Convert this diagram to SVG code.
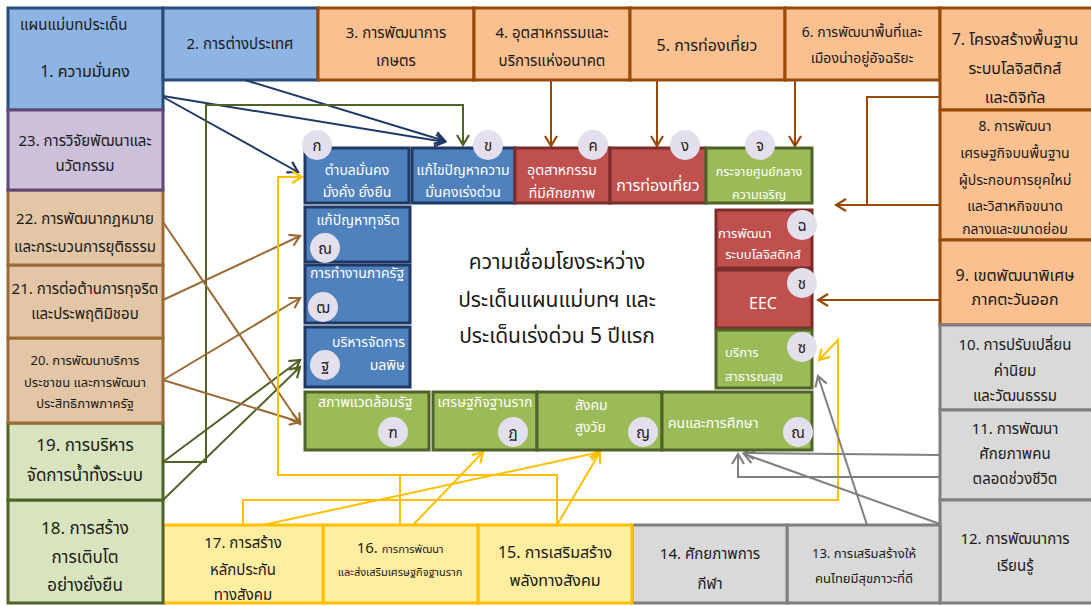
<svg xmlns="http://www.w3.org/2000/svg" width="1091" height="606" viewBox="0 0 1091 606">
<style>
text{font-family:'Noto Sans Thai','Leelawadee UI',Tahoma,'Noto Sans','DejaVu Sans',sans-serif;fill:#1a1a1a;text-anchor:middle}
.blue rect{fill:#8eb4e3;stroke:#2c4d75;stroke-width:3}
.org rect{fill:#fac090;stroke:#984807;stroke-width:3}
.gry rect{fill:#d9d9d9;stroke:#7f7f7f;stroke-width:3}
.yel rect{fill:#ffeda0;stroke:#ffc000;stroke-width:3}
.grn rect{fill:#d7e4bd;stroke:#4f6228;stroke-width:3}
.tan rect{fill:#e3c6a5;stroke:#9c6a35;stroke-width:3}
.lav rect{fill:#ccc0da;stroke:#5f497a;stroke-width:3}
.ib rect{fill:#4f81bd;stroke:#1f3864;stroke-width:3}
.ir rect{fill:#c0504d;stroke:#7b2c2a;stroke-width:3}
.ig rect{fill:#9bbb59;stroke:#4f6228;stroke-width:3}
.in text{fill:#fff;font-size:14px}
circle{fill:#e4dfec}
.in text.cl{fill:#1a1a1a;font-size:15px}
.s15{font-size:15px}.s16{font-size:16px}.s14{font-size:14px}.s13{font-size:13px}.s17{font-size:17px}
#connectors line,#connectors polyline{fill:none;stroke-width:2}
</style>
<defs>
<marker id="aN" viewBox="0 0 14 14" refX="12" refY="7" markerWidth="14" markerHeight="14" markerUnits="userSpaceOnUse" orient="auto"><path d="M2,1 L12,7 L2,13" fill="none" stroke="#1f3864" stroke-width="2.2"/></marker>
<marker id="aG" viewBox="0 0 14 14" refX="12" refY="7" markerWidth="14" markerHeight="14" markerUnits="userSpaceOnUse" orient="auto"><path d="M2,1 L12,7 L2,13" fill="none" stroke="#4f6228" stroke-width="2.2"/></marker>
<marker id="aB" viewBox="0 0 14 14" refX="12" refY="7" markerWidth="14" markerHeight="14" markerUnits="userSpaceOnUse" orient="auto"><path d="M2,1 L12,7 L2,13" fill="none" stroke="#9c6a35" stroke-width="2.2"/></marker>
<marker id="aO" viewBox="0 0 14 14" refX="12" refY="7" markerWidth="14" markerHeight="14" markerUnits="userSpaceOnUse" orient="auto"><path d="M2,1 L12,7 L2,13" fill="none" stroke="#984807" stroke-width="2.2"/></marker>
<marker id="aY" viewBox="0 0 14 14" refX="12" refY="7" markerWidth="14" markerHeight="14" markerUnits="userSpaceOnUse" orient="auto"><path d="M2,1 L12,7 L2,13" fill="none" stroke="#ffc000" stroke-width="2.2"/></marker>
<marker id="aR" viewBox="0 0 14 14" refX="12" refY="7" markerWidth="14" markerHeight="14" markerUnits="userSpaceOnUse" orient="auto"><path d="M2,1 L12,7 L2,13" fill="none" stroke="#808080" stroke-width="2.2"/></marker>
</defs>
<rect width="1091" height="606" fill="#fff"/>

<!-- outer boxes -->
<g id="n1" class="blue"><rect x="8" y="8" width="155" height="102"/><text x="20" y="30" class="s15" style="text-anchor:start">แผนแม่บทประเด็น</text><text x="85" y="77" class="s16">1. ความมั่นคง</text></g>
<g id="n2" class="blue"><rect x="163" y="8" width="155" height="72"/><text x="240" y="49" class="s15">2. การต่างประเทศ</text></g>
<g id="n3" class="org"><rect x="318" y="8" width="156" height="72"/><text x="396" y="38" class="s15">3. การพัฒนาการ</text><text x="396" y="66" class="s15">เกษตร</text></g>
<g id="n4" class="org"><rect x="474" y="8" width="156" height="72"/><text x="552" y="38" class="s15">4. อุตสาหกรรมและ</text><text x="552" y="66" class="s15">บริการแห่งอนาคต</text></g>
<g id="n5" class="org"><rect x="630" y="8" width="155" height="72"/><text x="707" y="51" class="s16">5. การท่องเที่ยว</text></g>
<g id="n6" class="org"><rect x="785" y="8" width="155" height="72"/><text x="862" y="37" class="s14">6. การพัฒนาพื้นที่และ</text><text x="862" y="63" class="s14">เมืองน่าอยู่อัจฉริยะ</text></g>
<g id="n7" class="org"><rect x="940" y="8" width="153" height="102"/><text x="1015" y="45" class="s16">7. โครงสร้างพื้นฐาน</text><text x="1015" y="74" class="s16">ระบบโลจิสติกส์</text><text x="1015" y="103" class="s16">และดิจิทัล</text></g>
<g id="n8" class="org"><rect x="940" y="110" width="153" height="130"/><text x="1015" y="131" class="s14">8. การพัฒนา</text><text x="1015" y="158" class="s14">เศรษฐกิจบนพื้นฐาน</text><text x="1015" y="185" class="s14">ผู้ประกอบการยุคใหม่</text><text x="1015" y="211" class="s14">และวิสาหกิจขนาด</text><text x="1015" y="234" class="s14">กลางและขนาดย่อม</text></g>
<g id="n9" class="org"><rect x="940" y="240" width="153" height="85"/><text x="1015" y="281" class="s16">9. เขตพัฒนาพิเศษ</text><text x="1015" y="305" class="s16">ภาคตะวันออก</text></g>
<g id="n10" class="gry"><rect x="940" y="325" width="153" height="85"/><text x="1015" y="350" class="s15">10. การปรับเปลี่ยน</text><text x="1015" y="376" class="s15">ค่านิยม</text><text x="1015" y="401" class="s15">และวัฒนธรรม</text></g>
<g id="n11" class="gry"><rect x="940" y="410" width="153" height="90"/><text x="1015" y="434" class="s15">11. การพัฒนา</text><text x="1015" y="459" class="s15">ศักยภาพคน</text><text x="1015" y="484" class="s15">ตลอดช่วงชีวิต</text></g>
<g id="n12" class="gry"><rect x="940" y="500" width="153" height="103"/><text x="1015" y="544" class="s15">12. การพัฒนาการ</text><text x="1015" y="571" class="s15">เรียนรู้</text></g>
<g id="n13" class="gry"><rect x="787" y="525" width="153" height="78"/><text x="864" y="558" class="s13">13. การเสริมสร้างให้</text><text x="864" y="583" class="s13">คนไทยมีสุขภาวะที่ดี</text></g>
<g id="n14" class="gry"><rect x="632" y="525" width="155" height="78"/><text x="710" y="559" class="s15">14. ศักยภาพการ</text><text x="710" y="589" class="s15">กีฬา</text></g>
<g id="n15" class="yel"><rect x="478" y="525" width="154" height="78"/><text x="555" y="558" class="s16">15. การเสริมสร้าง</text><text x="555" y="586" class="s16">พลังทางสังคม</text></g>
<g id="n16" class="yel"><rect x="323" y="525" width="155" height="78"/><text x="400" y="553"><tspan class="s15">16. </tspan><tspan style="font-size:11px">การการพัฒนา</tspan></text><text x="400" y="576" style="font-size:11px">และส่งเสริมเศรษฐกิจฐานราก</text></g>
<g id="n17" class="yel"><rect x="163" y="525" width="160" height="78"/><text x="243" y="548" class="s15">17. การสร้าง</text><text x="243" y="575" class="s15">หลักประกัน</text><text x="243" y="600" class="s15">ทางสังคม</text></g>
<g id="n18" class="grn"><rect x="8" y="500" width="155" height="103"/><text x="85" y="534" class="s17">18. การสร้าง</text><text x="85" y="563" class="s17">การเติบโต</text><text x="85" y="591" class="s17">อย่างยั่งยืน</text></g>
<g id="n19" class="grn"><rect x="8" y="423" width="155" height="77"/><text x="85" y="451" class="s17">19. การบริหาร</text><text x="85" y="481" class="s17">จัดการน้ำทั้งระบบ</text></g>
<g id="n20" class="tan"><rect x="8" y="338" width="155" height="85"/><text x="85" y="365" class="s13">20. การพัฒนาบริการ</text><text x="85" y="387" class="s13">ประชาชน และการพัฒนา</text><text x="85" y="408" class="s13">ประสิทธิภาพภาครัฐ</text></g>
<g id="n21" class="tan"><rect x="8" y="265" width="155" height="73"/><text x="85" y="294" class="s15">21. การต่อต้านการทุจริต</text><text x="85" y="319" class="s15">และประพฤติมิชอบ</text></g>
<g id="n22" class="tan"><rect x="8" y="190" width="155" height="75"/><text x="85" y="224" class="s15">22. การพัฒนากฎหมาย</text><text x="85" y="252" class="s15">และกระบวนการยุติธรรม</text></g>
<g id="n23" class="lav"><rect x="8" y="110" width="155" height="80"/><text x="85" y="146" class="s15">23. การวิจัยพัฒนาและ</text><text x="85" y="171" class="s15">นวัตกรรม</text></g>

<!-- center title -->
<g id="title"><text x="557" y="269" style="font-size:21px">ความเชื่อมโยงระหว่าง</text><text x="557" y="307" style="font-size:21px">ประเด็นแผนแม่บทฯ และ</text><text x="557" y="343" style="font-size:21px">ประเด็นเร่งด่วน 5 ปีแรก</text></g>

<!-- connectors -->
<g id="connectors">
<line x1="163" y1="97" x2="298" y2="172" stroke="#1f3864" marker-end="url(#aN)"/>
<line x1="163" y1="96" x2="445" y2="142" stroke="#1f3864" marker-end="url(#aN)"/>
<line x1="245" y1="80" x2="445" y2="141" stroke="#1f3864" marker-end="url(#aN)"/>
<polyline points="163,462 206,462 206,105 463,105 463,145" stroke="#4f6228" marker-end="url(#aG)"/>
<line x1="163" y1="462" x2="300" y2="360" stroke="#4f6228" marker-end="url(#aG)"/>
<line x1="163" y1="500" x2="300" y2="367" stroke="#4f6228" marker-end="url(#aG)"/>
<line x1="163" y1="222" x2="300" y2="424" stroke="#9c6a35" marker-end="url(#aB)"/>
<line x1="163" y1="300" x2="300" y2="236" stroke="#9c6a35" marker-end="url(#aB)"/>
<line x1="163" y1="380" x2="300" y2="298" stroke="#9c6a35" marker-end="url(#aB)"/>
<line x1="163" y1="380" x2="300" y2="422" stroke="#9c6a35" marker-end="url(#aB)"/>
<line x1="551" y1="80" x2="551" y2="146" stroke="#984807" marker-end="url(#aO)"/>
<line x1="657" y1="80" x2="657" y2="146" stroke="#984807" marker-end="url(#aO)"/>
<line x1="795" y1="80" x2="795" y2="146" stroke="#984807" marker-end="url(#aO)"/>
<polyline points="940,97 867,97 867,205" stroke="#984807"/>
<line x1="940" y1="205" x2="836" y2="205" stroke="#984807" marker-end="url(#aO)"/>
<line x1="940" y1="300" x2="818" y2="300" stroke="#984807" marker-end="url(#aO)"/>
<polyline points="243,525 243,500 838,500 838,340 819,360" stroke="#ffc000" marker-end="url(#aY)"/>
<polyline points="557,525 557,475 278,475 278,177 302,177" stroke="#ffc000" marker-end="url(#aY)"/>
<polyline points="400,525 400,475" stroke="#ffc000"/>
<line x1="263" y1="525" x2="600" y2="452" stroke="#ffc000" marker-end="url(#aY)"/>
<line x1="413" y1="525" x2="483" y2="452" stroke="#ffc000" marker-end="url(#aY)"/>
<line x1="557" y1="525" x2="600" y2="452" stroke="#ffc000" marker-end="url(#aY)"/>
<polyline points="940,477 738,477 738,454" stroke="#808080" marker-end="url(#aR)"/>
<line x1="940" y1="455" x2="744" y2="453" stroke="#808080" marker-end="url(#aR)"/>
<line x1="940" y1="524" x2="744" y2="454" stroke="#808080" marker-end="url(#aR)"/>
<line x1="867" y1="525" x2="818" y2="376" stroke="#808080" marker-end="url(#aR)"/>
</g>

<!-- inner nodes -->
<g id="kA" class="in ib"><rect x="305" y="148" width="104" height="55"/><text x="357" y="175">ตำบลมั่นคง</text><text x="357" y="197">มั่งคั่ง ยั่งยืน</text><circle cx="317" cy="145" r="15"/><text x="317" y="151" class="cl">ก</text></g>
<g id="kB" class="in ib"><rect x="412" y="148" width="103" height="55"/><text x="463" y="175">แก้ไขปัญหาความ</text><text x="463" y="197">มั่นคงเร่งด่วน</text><circle cx="488" cy="145" r="15"/><text x="488" y="151" class="cl">ข</text></g>
<g id="kC" class="in ir"><rect x="515" y="148" width="95" height="55"/><text x="562" y="175">อุตสาหกรรม</text><text x="562" y="198">ที่มีศักยภาพ</text><circle cx="593" cy="145" r="15"/><text x="593" y="151" class="cl">ค</text></g>
<g id="kD" class="in ir"><rect x="610" y="148" width="96" height="55"/><text x="658" y="191" style="font-size:16px">การท่องเที่ยว</text><circle cx="685" cy="145" r="15"/><text x="685" y="151" class="cl">ง</text></g>
<g id="kE" class="in ig"><rect x="706" y="148" width="106" height="55"/><text x="759" y="176" style="font-size:12.5px">กระจายศูนย์กลาง</text><text x="759" y="199" style="font-size:12.5px">ความเจริญ</text><circle cx="760" cy="145" r="15"/><text x="760" y="151" class="cl">จ</text></g>
<g id="kF" class="in ir"><rect x="716" y="210" width="96" height="58"/><text x="718" y="238" style="text-anchor:start;font-size:13px">การพัฒนา</text><text x="763" y="259" style="font-size:13px">ระบบโลจิสติกส์</text><circle cx="802" cy="225" r="15"/><text x="802" y="231" class="cl">ฉ</text></g>
<g id="kG" class="in ir"><rect x="716" y="270" width="96" height="58"/><text x="763" y="309" style="font-size:16px">EEC</text><circle cx="802" cy="283" r="15"/><text x="802" y="289" class="cl">ช</text></g>
<g id="kH" class="in ig"><rect x="716" y="330" width="96" height="58"/><text x="725" y="357" style="text-anchor:start;font-size:13px">บริการ</text><text x="725" y="381" style="text-anchor:start;font-size:13px">สาธารณสุข</text><circle cx="802" cy="347" r="15"/><text x="802" y="353" class="cl">ซ</text></g>
<g id="kI" class="in ib"><rect x="305" y="207" width="105" height="55"/><text x="358" y="225">แก้ปัญหาทุจริต</text><circle cx="325" cy="248" r="15"/><text x="325" y="254" class="cl">ณ</text></g>
<g id="kJ" class="in ib"><rect x="305" y="265" width="105" height="58"/><text x="357" y="278">การทำงานภาครัฐ</text><circle cx="323" cy="307" r="15"/><text x="323" y="313" class="cl">ฒ</text></g>
<g id="kK" class="in ib"><rect x="305" y="327" width="105" height="60"/><text x="405" y="347" style="text-anchor:end">บริหารจัดการ</text><text x="405" y="370" style="text-anchor:end">มลพิษ</text><circle cx="325" cy="365" r="15"/><text x="325" y="371" class="cl">ฐ</text></g>
<g id="kL" class="in ig"><rect x="305" y="392" width="124" height="58"/><text x="318" y="407" style="text-anchor:start">สภาพแวดล้อมรัฐ</text><circle cx="393" cy="432" r="15"/><text x="393" y="438" class="cl">ฑ</text></g>
<g id="kM" class="in ig"><rect x="433" y="392" width="104" height="58"/><text x="485" y="407">เศรษฐกิจฐานราก</text><circle cx="513" cy="432" r="15"/><text x="513" y="438" class="cl">ฏ</text></g>
<g id="kN" class="in ig"><rect x="537" y="392" width="125" height="58"/><text x="575" y="410" style="text-anchor:start">สังคม</text><text x="575" y="432" style="text-anchor:start">สูงวัย</text><circle cx="643" cy="432" r="15"/><text x="643" y="438" class="cl">ญ</text></g>
<g id="kO" class="in ig"><rect x="662" y="392" width="150" height="58"/><text x="668" y="428" style="text-anchor:start">คนและการศึกษา</text><circle cx="798" cy="432" r="15"/><text x="798" y="438" class="cl">ณ</text></g>
</svg>
